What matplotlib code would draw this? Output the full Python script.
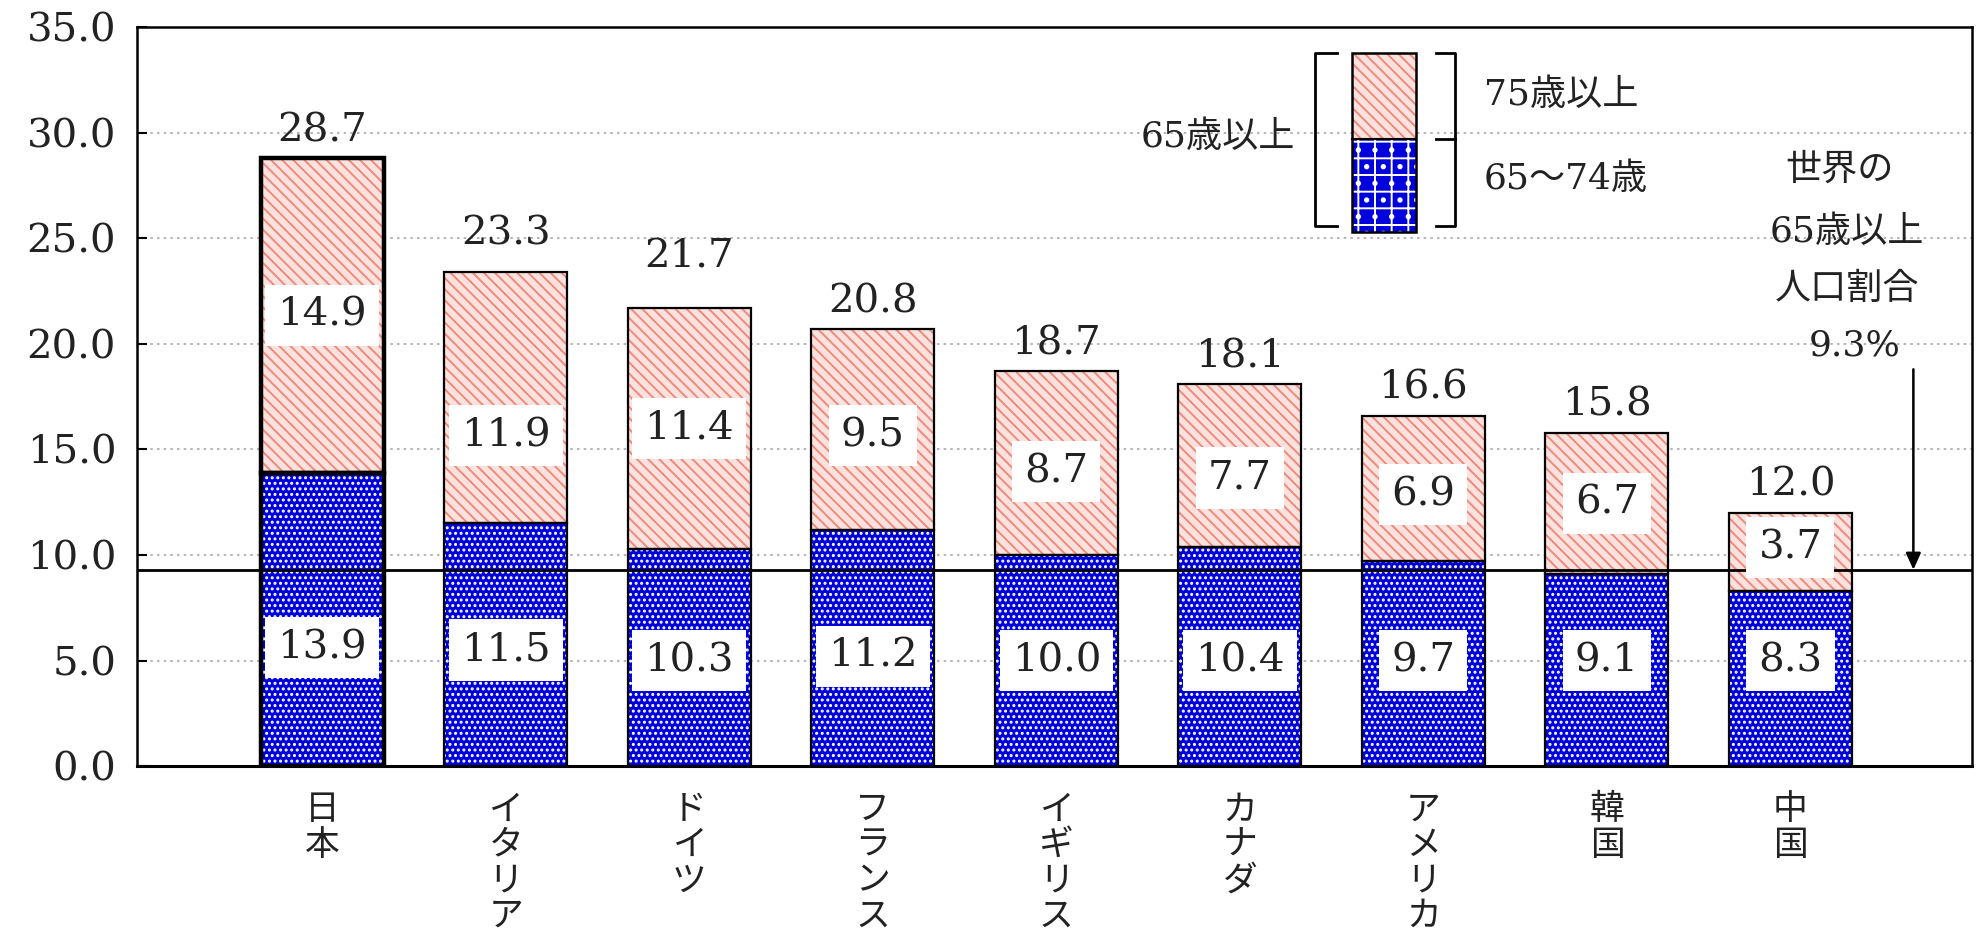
import numpy as np
import matplotlib
matplotlib.use("Agg")
import matplotlib.pyplot as plt
from matplotlib.patches import Rectangle

# ---- data ----
countries = ['日本', 'イタリア', 'ドイツ', 'フランス', 'イギリス', 'カナダ', 'アメリカ', '韓国', '中国']
age65_74 = [13.9, 11.5, 10.3, 11.2, 10.0, 10.4, 9.7, 9.1, 8.3]
age75_over = [14.9, 11.9, 11.4, 9.5, 8.7, 7.7, 6.9, 6.7, 3.7]
totals = [28.7, 23.3, 21.7, 20.8, 18.7, 18.1, 16.6, 15.8, 12.0]
world_share = 9.3
yticks = [0, 5, 10, 15, 20, 25, 30, 35]

FAM = ['DejaVu Serif', 'Noto Sans CJK JP', 'DejaVu Sans']
plt.rcParams['font.family'] = FAM
plt.rcParams['hatch.linewidth'] = 1.4
TXT = '#222222'
BLUE = '#0000DD'
PINK_FACE = '#FCE2DE'
PINK_HATCH = '#EE8A7C'
NUM_FS = 29
TICK_FS = 29
CJK_FS = 26

fig = plt.figure(figsize=(19.84, 9.35), dpi=100)
ax = fig.add_axes([0.069, 0.1807, 0.925, 0.79])

x = np.arange(len(countries))
a = np.array(age65_74)
b = np.array(age75_over)
w = 0.67
lws = [3.2] + [1.6] * (len(countries) - 1)

ax.bar(x, a, w, color=BLUE, edgecolor='white', hatch='...', linewidth=0, zorder=2)
ax.bar(x, b, w, bottom=a, color=PINK_FACE, edgecolor=PINK_HATCH, hatch='\\\\\\', linewidth=0, zorder=2)
ax.bar(x, a, w, fill=False, edgecolor='black', linewidth=lws, zorder=3)
ax.bar(x, b, w, bottom=a, fill=False, edgecolor='black', linewidth=lws, zorder=3)

# world line
ax.axhline(world_share, color='black', linewidth=2.0, zorder=4)

box = dict(boxstyle='square,pad=0.3', facecolor='white', edgecolor='none')
total_off = {1: 0.5, 2: 1.1}
pink_off = {1: -1.8, 3: -0.3, 4: -0.4, 5: -0.6, 6: -0.3, 8: 0.2}
blue_pos = {0: 5.6, 1: 5.5, 3: 5.2}
for i in range(len(countries)):
    top = a[i] + b[i]
    ax.text(x[i], top + 0.8 + total_off.get(i, 0), f'{totals[i]:.1f}', ha='center',
            va='baseline', fontsize=NUM_FS, color=TXT, zorder=5)
    yb = blue_pos.get(i, 5.0)
    ax.text(x[i], yb, f'{a[i]:.1f}', ha='center', va='center', fontsize=NUM_FS,
            color=TXT, bbox=box, zorder=5)
    yp = a[i] + b[i] / 2 + pink_off.get(i, 0)
    ax.text(x[i], yp, f'{b[i]:.1f}', ha='center', va='center', fontsize=NUM_FS,
            color=TXT, bbox=box, zorder=5)
    # vertical category label
    ax.text(x[i], -1.25, '\n'.join(countries[i]), ha='center', va='top',
            fontsize=25, color=TXT, linespacing=1.02,
            family=['Noto Sans CJK JP', 'DejaVu Sans'], clip_on=False)

# axes styling
ax.set_xlim(-1.01, 8.99)
ax.set_ylim(0, 35)
ax.set_yticks(yticks)
ax.set_yticklabels([f'{t:.1f}' for t in yticks])
ax.set_xticks([])
ax.tick_params(axis='y', direction='in', length=7, width=1.5, pad=15,
               labelsize=TICK_FS, labelcolor=TXT)
for t in ax.get_yticklabels():
    t.set_family(FAM)
for s in ax.spines.values():
    s.set_linewidth(1.8)
    s.set_color('black')
ax.spines['bottom'].set_linewidth(2.2)
ax.yaxis.grid(True, linestyle=(0, (1.5, 2.5)), color='#A8A8A8', linewidth=1.2, zorder=0)
ax.set_axisbelow(True)

# legend (drawn in data coords)
lx0, lx1 = 5.61, 5.96
ly0, lym, ly1 = 25.3, 29.7, 33.8
ax.add_patch(Rectangle((lx0, lym), lx1 - lx0, ly1 - lym, facecolor=PINK_FACE,
                       edgecolor=PINK_HATCH, hatch='\\\\\\', linewidth=0, zorder=3))
ax.add_patch(Rectangle((lx0, ly0), lx1 - lx0, lym - ly0, facecolor=BLUE,
                       edgecolor='white', hatch='+.', linewidth=0, zorder=3))
ax.add_patch(Rectangle((lx0, ly0), lx1 - lx0, ly1 - ly0, fill=False,
                       edgecolor='black', linewidth=1.8, zorder=4))
ax.plot([lx0, lx1], [lym, lym], color='black', linewidth=1.5, zorder=4)
# brackets
bl, bl2 = 5.41, 5.53
br, br2 = 6.17, 6.07
by0, by1 = 25.6, 33.8
ax.plot([bl2, bl, bl, bl2], [by1, by1, by0, by0], color='black', linewidth=2.0, zorder=4)
ax.plot([br2, br, br, br2], [by1, by1, by0, by0], color='black', linewidth=2.0, zorder=4)
ax.plot([br2, br], [lym, lym], color='black', linewidth=2.0, zorder=4)
ax.text(5.30, 29.8, '65歳以上', ha='right', va='center', fontsize=CJK_FS, color=TXT)
ax.text(6.33, 31.8, '75歳以上', ha='left', va='center', fontsize=CJK_FS, color=TXT)
ax.text(6.33, 27.8, '65～74歳', ha='left', va='center', fontsize=CJK_FS, color=TXT)

# world annotation
for txt, xx, yy in [('世界の', 8.27, 28.25), ('65歳以上', 8.31, 25.3),
                    ('人口割合', 8.31, 22.6), ('9.3%', 8.35, 19.95)]:
    ax.text(xx, yy, txt, ha='center', va='center', fontsize=CJK_FS, color=TXT)
ax.annotate('', xy=(8.67, world_share), xytext=(8.67, 18.8),
            arrowprops=dict(arrowstyle='-|>,head_width=0.45,head_length=1.0',
                            color='black', linewidth=1.8, shrinkA=0, shrinkB=0),
            zorder=5)

fig.savefig('out.png', dpi=100, facecolor='white')
